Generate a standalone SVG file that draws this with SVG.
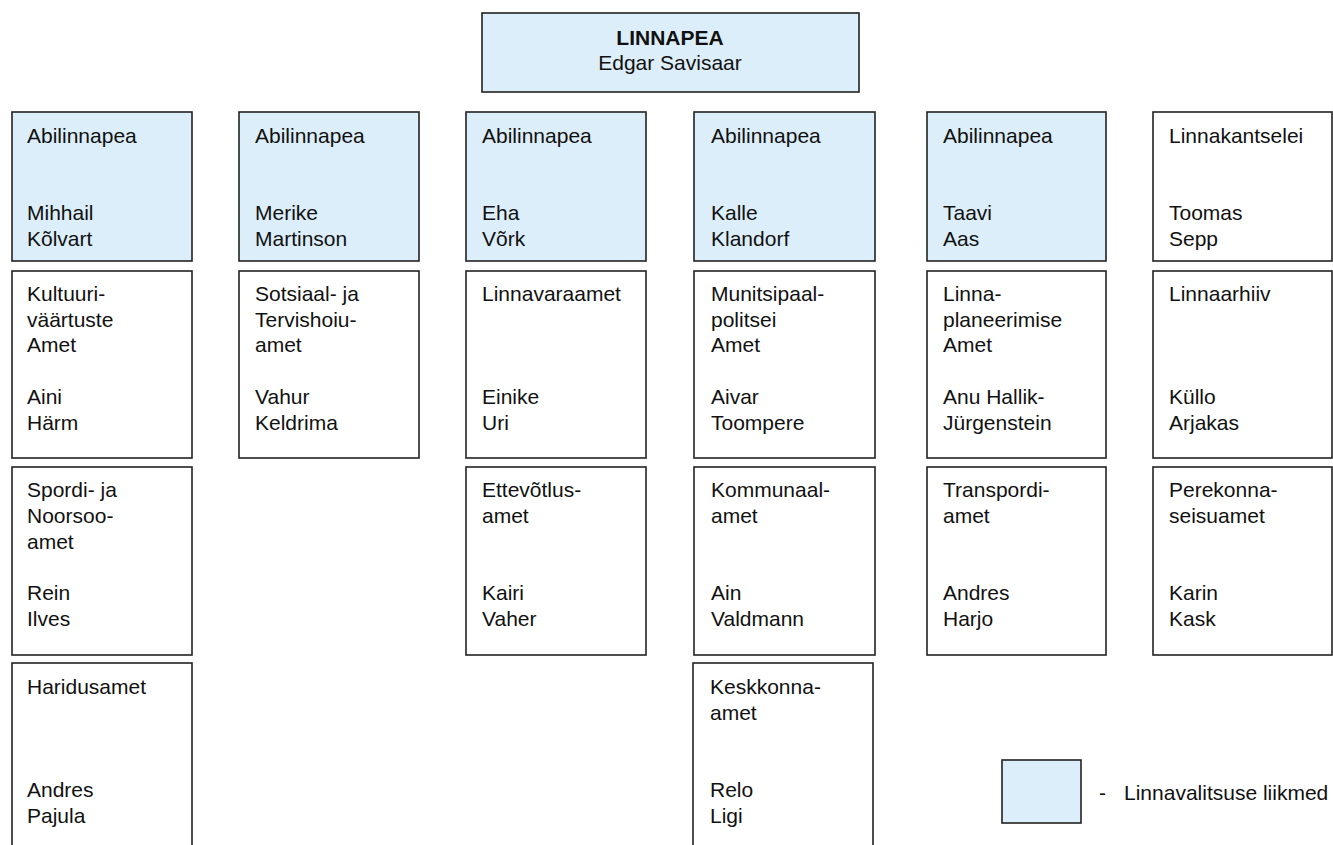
<svg xmlns="http://www.w3.org/2000/svg" width="1333" height="845" viewBox="0 0 1333 845">
<style>
.b{stroke:#222;stroke-width:1.6;fill:#fff}
.m{fill:#dceef9}
.t{font-family:"Liberation Sans",Arial,sans-serif;font-size:21px;fill:#111}
.h{font-weight:bold}
</style>
<rect width="1333" height="845" fill="#fff"/>
<g id="connectors"/>
<g id="linnapea"><rect class="b m" x="482" y="13" width="377" height="79"/><text class="t h" x="670" y="45" text-anchor="middle">LINNAPEA</text><text class="t" x="670" y="70" text-anchor="middle">Edgar Savisaar</text></g>

<g id="abi1"><rect class="b m" x="12" y="112" width="180" height="149"/><text class="t" x="27"><tspan y="143">Abilinnapea</tspan><tspan x="27" y="220">Mihhail</tspan><tspan x="27" y="246">Kõlvart</tspan></text></g>
<g id="abi2"><rect class="b m" x="239" y="112" width="180" height="149"/><text class="t" x="255"><tspan y="143">Abilinnapea</tspan><tspan x="255" y="220">Merike</tspan><tspan x="255" y="246">Martinson</tspan></text></g>
<g id="abi3"><rect class="b m" x="466" y="112" width="180" height="149"/><text class="t" x="482"><tspan y="143">Abilinnapea</tspan><tspan x="482" y="220">Eha</tspan><tspan x="482" y="246">Võrk</tspan></text></g>
<g id="abi4"><rect class="b m" x="694" y="112" width="181" height="149"/><text class="t" x="711"><tspan y="143">Abilinnapea</tspan><tspan x="711" y="220">Kalle</tspan><tspan x="711" y="246">Klandorf</tspan></text></g>
<g id="abi5"><rect class="b m" x="927" y="112" width="179" height="149"/><text class="t" x="943"><tspan y="143">Abilinnapea</tspan><tspan x="943" y="220">Taavi</tspan><tspan x="943" y="246">Aas</tspan></text></g>
<g id="kantselei"><rect class="b" x="1153" y="112" width="179" height="149"/><text class="t" x="1169"><tspan y="143">Linnakantselei</tspan><tspan x="1169" y="220">Toomas</tspan><tspan x="1169" y="246">Sepp</tspan></text></g>

<g id="kultuur"><rect class="b" x="12" y="271" width="180" height="187"/><text class="t" x="27"><tspan y="301">Kultuuri-</tspan><tspan x="27" y="327">väärtuste</tspan><tspan x="27" y="352">Amet</tspan><tspan x="27" y="404">Aini</tspan><tspan x="27" y="430">Härm</tspan></text></g>
<g id="sotsiaal"><rect class="b" x="239" y="271" width="180" height="187"/><text class="t" x="255"><tspan y="301">Sotsiaal- ja</tspan><tspan x="255" y="327">Tervishoiu-</tspan><tspan x="255" y="352">amet</tspan><tspan x="255" y="404">Vahur</tspan><tspan x="255" y="430">Keldrima</tspan></text></g>
<g id="linnavara"><rect class="b" x="466" y="271" width="180" height="187"/><text class="t" x="482"><tspan y="301">Linnavaraamet</tspan><tspan x="482" y="404">Einike</tspan><tspan x="482" y="430">Uri</tspan></text></g>
<g id="munitsipaal"><rect class="b" x="694" y="271" width="181" height="187"/><text class="t" x="711"><tspan y="301">Munitsipaal-</tspan><tspan x="711" y="327">politsei</tspan><tspan x="711" y="352">Amet</tspan><tspan x="711" y="404">Aivar</tspan><tspan x="711" y="430">Toompere</tspan></text></g>
<g id="planeerimine"><rect class="b" x="927" y="271" width="179" height="187"/><text class="t" x="943"><tspan y="301">Linna-</tspan><tspan x="943" y="327">planeerimise</tspan><tspan x="943" y="352">Amet</tspan><tspan x="943" y="404">Anu Hallik-</tspan><tspan x="943" y="430">Jürgenstein</tspan></text></g>
<g id="arhiiv"><rect class="b" x="1153" y="271" width="179" height="187"/><text class="t" x="1169"><tspan y="301">Linnaarhiiv</tspan><tspan x="1169" y="404">Küllo</tspan><tspan x="1169" y="430">Arjakas</tspan></text></g>

<g id="sport"><rect class="b" x="12" y="467" width="180" height="188"/><text class="t" x="27"><tspan y="497">Spordi- ja</tspan><tspan x="27" y="523">Noorsoo-</tspan><tspan x="27" y="549">amet</tspan><tspan x="27" y="600">Rein</tspan><tspan x="27" y="626">Ilves</tspan></text></g>
<g id="ettevotlus"><rect class="b" x="466" y="467" width="180" height="188"/><text class="t" x="482"><tspan y="497">Ettevõtlus-</tspan><tspan x="482" y="523">amet</tspan><tspan x="482" y="600">Kairi</tspan><tspan x="482" y="626">Vaher</tspan></text></g>
<g id="kommunaal"><rect class="b" x="694" y="467" width="181" height="188"/><text class="t" x="711"><tspan y="497">Kommunaal-</tspan><tspan x="711" y="523">amet</tspan><tspan x="711" y="600">Ain</tspan><tspan x="711" y="626">Valdmann</tspan></text></g>
<g id="transport"><rect class="b" x="927" y="467" width="179" height="188"/><text class="t" x="943"><tspan y="497">Transpordi-</tspan><tspan x="943" y="523">amet</tspan><tspan x="943" y="600">Andres</tspan><tspan x="943" y="626">Harjo</tspan></text></g>
<g id="perekonnaseis"><rect class="b" x="1153" y="467" width="179" height="188"/><text class="t" x="1169"><tspan y="497">Perekonna-</tspan><tspan x="1169" y="523">seisuamet</tspan><tspan x="1169" y="600">Karin</tspan><tspan x="1169" y="626">Kask</tspan></text></g>

<g id="haridus"><rect class="b" x="12" y="663" width="180" height="200"/><text class="t" x="27"><tspan y="694">Haridusamet</tspan><tspan x="27" y="797">Andres</tspan><tspan x="27" y="823">Pajula</tspan></text></g>
<g id="keskkond"><rect class="b" x="693" y="663" width="180" height="200"/><text class="t" x="710"><tspan y="694">Keskkonna-</tspan><tspan x="710" y="720">amet</tspan><tspan x="710" y="797">Relo</tspan><tspan x="710" y="823">Ligi</tspan></text></g>

<g id="legend"><rect class="b m" x="1002" y="760" width="79" height="63"/><text class="t" x="1099" y="800">-</text><text class="t" x="1124" y="800">Linnavalitsuse liikmed</text></g>
</svg>
